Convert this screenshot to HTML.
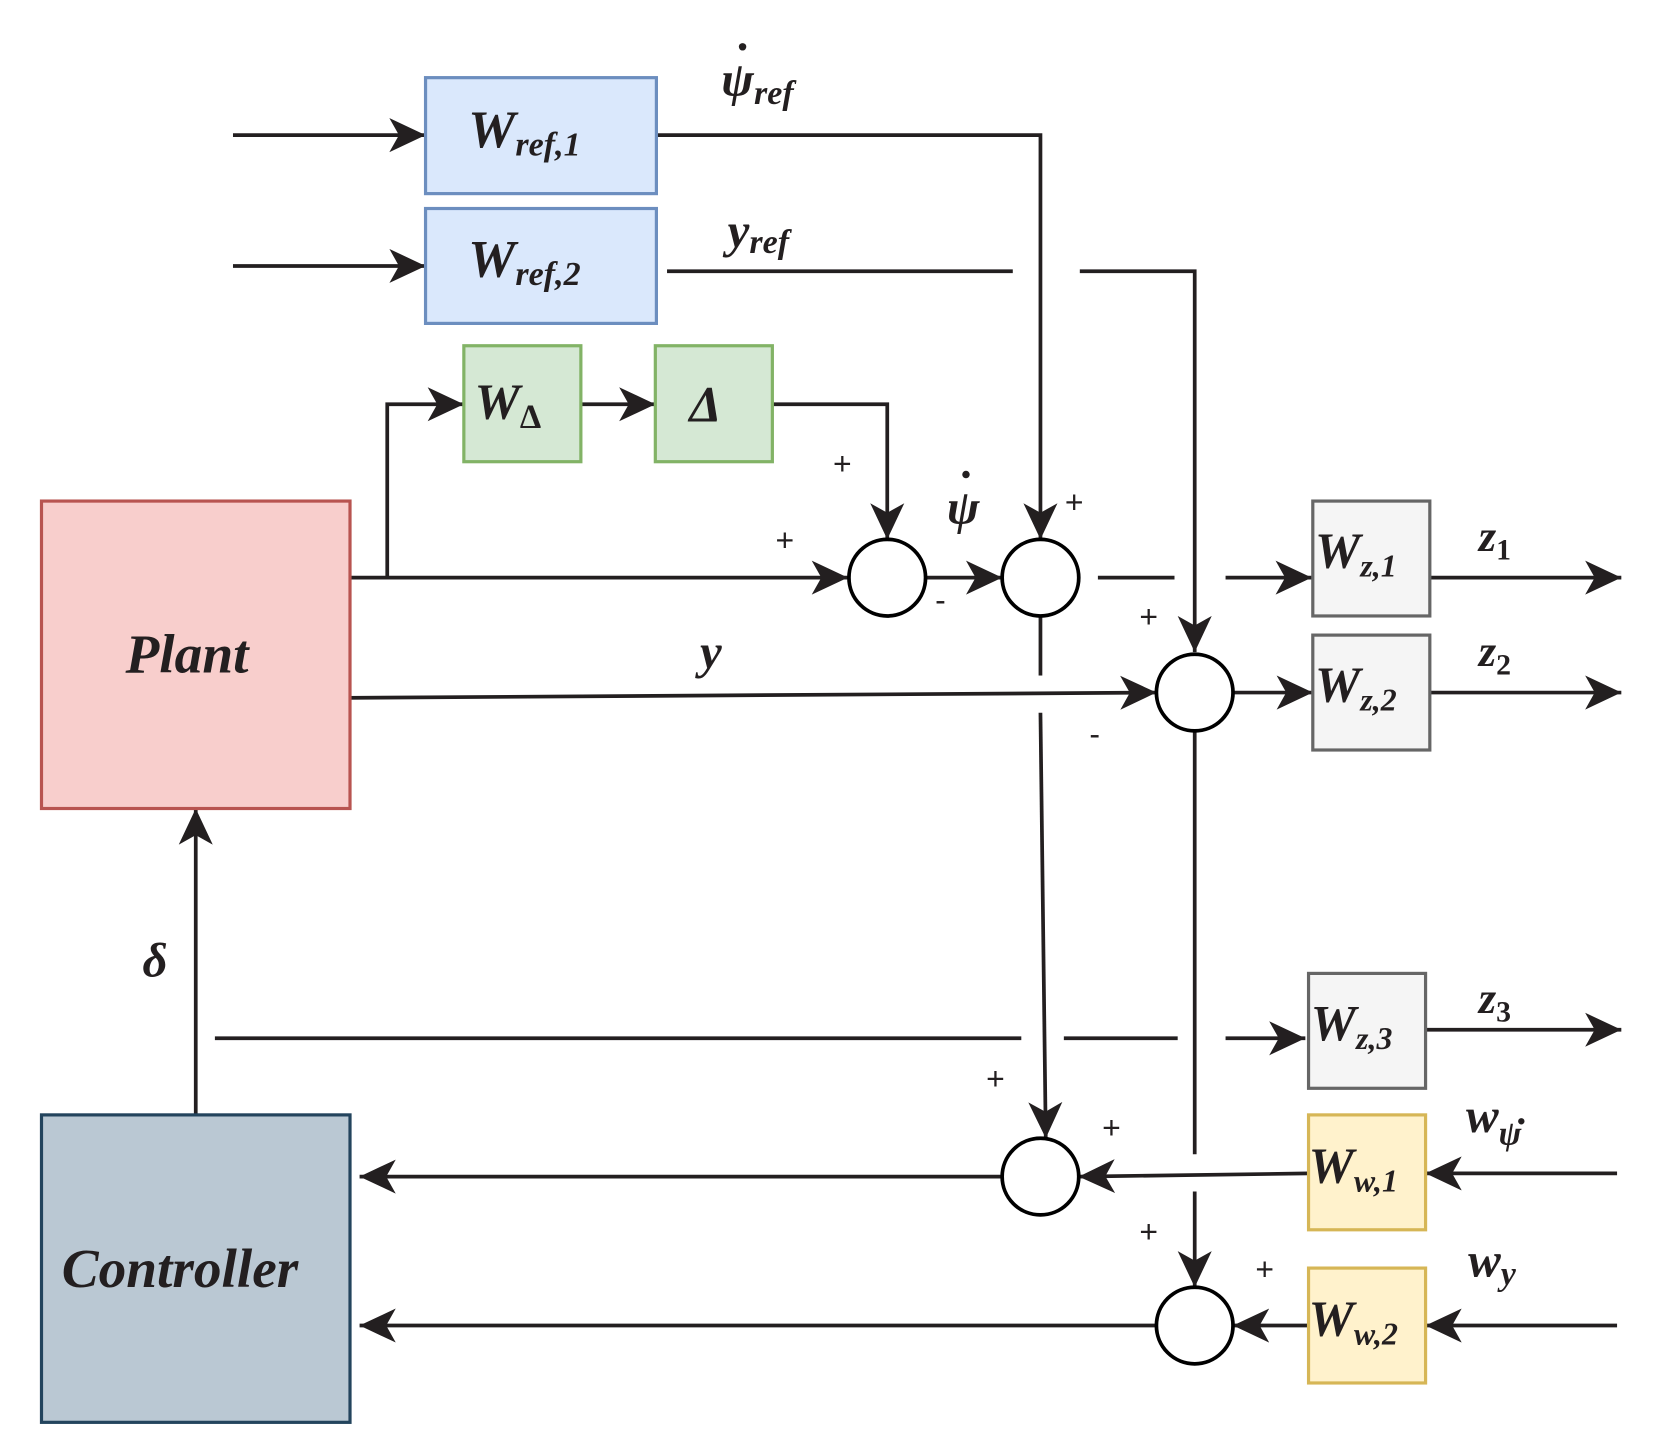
<!DOCTYPE html>
<html><head><meta charset="utf-8"><style>
html,body{margin:0;padding:0;background:#fff;}
svg{display:block;}
text{font-family:"Liberation Serif",serif;font-style:italic;font-weight:bold;fill:#231f20;}
.p{font-family:"Liberation Sans",sans-serif;font-style:normal;font-weight:normal;font-size:30px;}
</style></head><body>
<svg width="1666" height="1450" viewBox="0 0 1566 1363" preserveAspectRatio="none" xmlns="http://www.w3.org/2000/svg">
<defs>
<marker id="ar" viewBox="0 0 36 36" refX="34" refY="18" markerWidth="36" markerHeight="36" markerUnits="userSpaceOnUse" orient="auto">
<path d="M0,2 L34,18 L0,34 L9,18 Z" fill="#231f20"/>
</marker>
</defs>
<g stroke="#231f20" stroke-width="3.5" fill="none">
<path d="M219,127 H400" marker-end="url(#ar)"/>
<path d="M219,250 H400" marker-end="url(#ar)"/>
<path d="M617,127 H978 V507" marker-end="url(#ar)"/>
<path d="M627,255 H952"/>
<path d="M1015,255 H1123 V613" marker-end="url(#ar)"/>
<path d="M329,543 H364 V380 H436" marker-end="url(#ar)"/>
<path d="M546,380 H616" marker-end="url(#ar)"/>
<path d="M726,380 H834 V507" marker-end="url(#ar)"/>
<path d="M364,543 H797" marker-end="url(#ar)"/>
<path d="M870,543 H942" marker-end="url(#ar)"/>
<path d="M1032,543 H1104"/>
<path d="M1152,543 H1233" marker-end="url(#ar)"/>
<path d="M978,579 V635"/>
<path d="M978,670 L983,1070" marker-end="url(#ar)"/>
<path d="M325,656 L1087,651" marker-end="url(#ar)"/>
<path d="M1159,651 H1234" marker-end="url(#ar)"/>
<path d="M1123,687 V1085"/>
<path d="M1123,1120 V1210" marker-end="url(#ar)"/>
<path d="M1344,543 H1524" marker-end="url(#ar)"/>
<path d="M1344,651 H1524" marker-end="url(#ar)"/>
<path d="M1340,968 H1524" marker-end="url(#ar)"/>
<path d="M202,976 H960 M1000,976 H1107"/>
<path d="M1152,976 H1227" marker-end="url(#ar)"/>
<path d="M184,1048 V760" marker-end="url(#ar)"/>
<path d="M1520,1103 H1340" marker-end="url(#ar)"/>
<path d="M1230,1103 L1014,1106" marker-end="url(#ar)"/>
<path d="M942,1106 H338" marker-end="url(#ar)"/>
<path d="M1520,1246 H1340" marker-end="url(#ar)"/>
<path d="M1230,1246 H1159" marker-end="url(#ar)"/>
<path d="M1087,1246 H338" marker-end="url(#ar)"/>
</g>
<g stroke="#000" stroke-width="3.5" fill="#fff">
<circle cx="834" cy="543" r="36"/>
<circle cx="978" cy="543" r="36"/>
<circle cx="1123" cy="651" r="36"/>
<circle cx="978" cy="1106" r="36"/>
<circle cx="1123" cy="1246" r="36"/>
</g>
<g stroke-width="3">
<rect x="400" y="73" width="217" height="109" fill="#dae8fc" stroke="#6c8ebf"/>
<rect x="400" y="196" width="217" height="108" fill="#dae8fc" stroke="#6c8ebf"/>
<rect x="436" y="325" width="110" height="109" fill="#d5e8d4" stroke="#82b366"/>
<rect x="616" y="325" width="110" height="109" fill="#d5e8d4" stroke="#82b366"/>
<rect x="39" y="471" width="290" height="289" fill="#f8cecc" stroke="#b85450"/>
<rect x="39" y="1048" width="290" height="289" fill="#bac8d3" stroke="#23445d"/>
<rect x="1234" y="471" width="110" height="108" fill="#f5f5f5" stroke="#666"/>
<rect x="1234" y="597" width="110" height="108" fill="#f5f5f5" stroke="#666"/>
<rect x="1230" y="915" width="110" height="108" fill="#f5f5f5" stroke="#666"/>
<rect x="1230" y="1048" width="110" height="108" fill="#fff2cc" stroke="#d6b656"/>
<rect x="1230" y="1192" width="110" height="108" fill="#fff2cc" stroke="#d6b656"/>
</g>
<text x="440" y="138" font-size="50">W<tspan font-size="32" dy="8">ref,1</tspan></text>
<text x="440" y="260" font-size="50">W<tspan font-size="32" dy="8">ref,2</tspan></text>
<text x="446" y="394" font-size="48">W<tspan font-size="32" dy="8" font-style="normal">Δ</tspan></text>
<text x="648" y="396" font-size="48" font-style="normal">Δ</text>
<text x="118" y="632" font-size="52">Plant</text>
<text x="58" y="1210" font-size="52">Controller</text>
<text x="1236" y="534" font-size="48">W<tspan font-size="30" dy="8">z,1</tspan></text>
<text x="1236" y="660" font-size="48">W<tspan font-size="30" dy="8">z,2</tspan></text>
<text x="1232" y="978" font-size="48">W<tspan font-size="30" dy="8">z,3</tspan></text>
<text x="1230" y="1112" font-size="48">W<tspan font-size="30" dy="8">w,1</tspan></text>
<text x="1230" y="1256" font-size="48">W<tspan font-size="30" dy="8">w,2</tspan></text>
<text x="678" y="90" font-size="46">ψ<tspan font-size="32" dy="8">ref</tspan></text>
<circle cx="698" cy="44" r="3.5" fill="#231f20"/>
<text x="684" y="232" font-size="46">y<tspan font-size="32" dy="6">ref</tspan></text>
<text x="890" y="492" font-size="46">ψ</text>
<circle cx="908" cy="446" r="3.5" fill="#231f20"/>
<text x="658" y="628" font-size="46">y</text>
<text x="1390" y="518" font-size="42">z<tspan font-size="28" dy="8" font-style="normal">1</tspan></text>
<text x="1390" y="626" font-size="42">z<tspan font-size="28" dy="8" font-style="normal">2</tspan></text>
<text x="1390" y="952" font-size="42">z<tspan font-size="28" dy="8" font-style="normal">3</tspan></text>
<text x="1378" y="1064" font-size="46">w<tspan font-size="32" dy="12">ψ</tspan></text>
<circle cx="1430" cy="1054" r="3" fill="#231f20"/>
<text x="1380" y="1200" font-size="46">w<tspan font-size="32" dy="8">y</tspan></text>
<text x="134" y="918" font-size="46">δ</text>
<text class="p" x="783" y="446">+</text>
<text class="p" x="729" y="518">+</text>
<text class="p" x="879" y="574">-</text>
<text class="p" x="1001" y="482">+</text>
<text class="p" x="1071" y="590">+</text>
<text class="p" x="1024" y="700">-</text>
<text class="p" x="927" y="1024">+</text>
<text class="p" x="1036" y="1070">+</text>
<text class="p" x="1071" y="1168">+</text>
<text class="p" x="1180" y="1203">+</text>
</svg>
</body></html>
